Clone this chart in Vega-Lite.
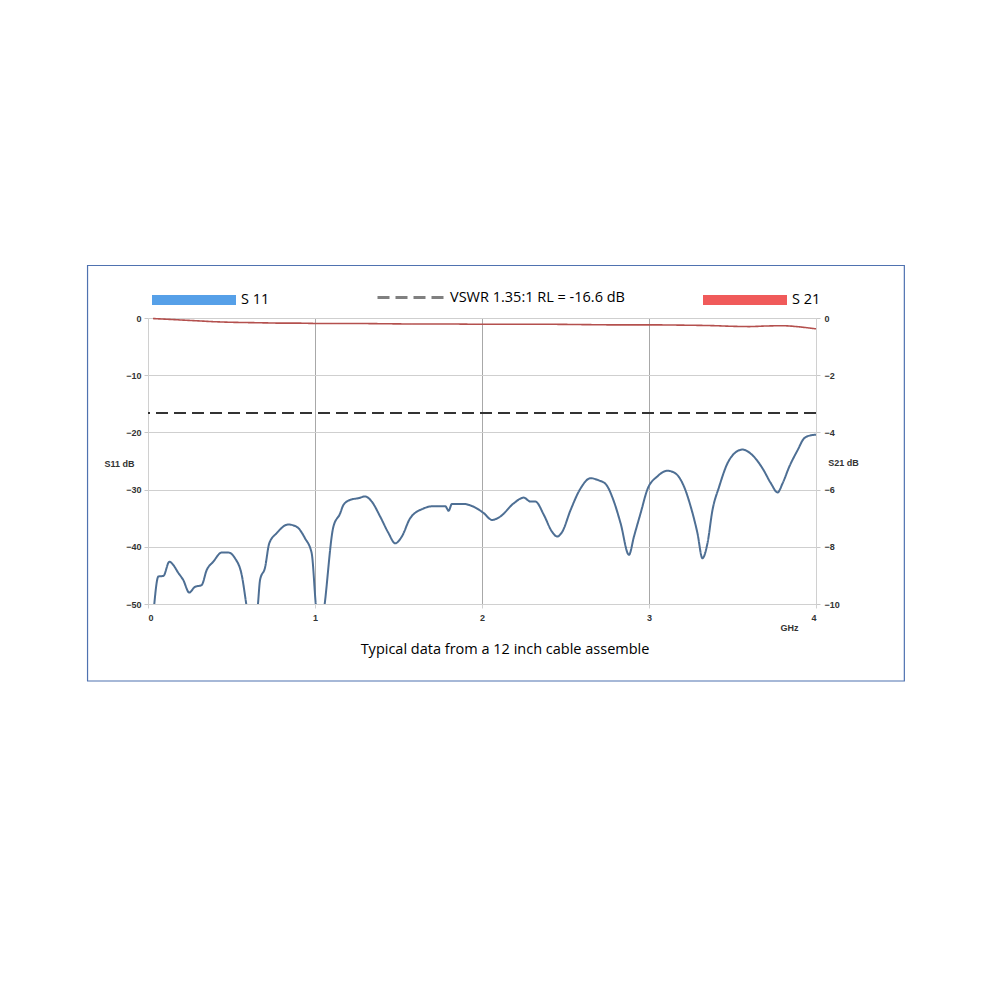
{
  "$schema": "https://vega.github.io/schema/vega-lite/v6.json",
  "width": 668,
  "height": 286,
  "autosize": "none",
  "padding": {"left": 148, "top": 318, "right": 184, "bottom": 396},
  "background": "white",
  "config": {"view": {"stroke": null}, "font": "Liberation Sans"},
  "title": {
    "text": "Typical data from a 12 inch cable assemble",
    "orient": "bottom",
    "frame": "group",
    "anchor": "middle",
    "dx": 23,
    "dy": -73,
    "offset": 34,
    "font": "Open Sans",
    "fontSize": 14.5,
    "fontWeight": "normal",
    "color": "#000000"
  },
  "datasets": {
    "s11": [
      {"ghz": 0.036, "db": -50.5},
      {"ghz": 0.062, "db": -45.2},
      {"ghz": 0.092, "db": -45.1},
      {"ghz": 0.128, "db": -42.6},
      {"ghz": 0.152, "db": -43.2},
      {"ghz": 0.18, "db": -44.5},
      {"ghz": 0.211, "db": -45.8},
      {"ghz": 0.247, "db": -48.0},
      {"ghz": 0.281, "db": -47.0},
      {"ghz": 0.321, "db": -46.7},
      {"ghz": 0.351, "db": -44.1},
      {"ghz": 0.391, "db": -42.6},
      {"ghz": 0.441, "db": -41.0},
      {"ghz": 0.481, "db": -41.0},
      {"ghz": 0.521, "db": -42.0},
      {"ghz": 0.561, "db": -44.9},
      {"ghz": 0.591, "db": -50.5},
      {"ghz": 0.62, "db": -56},
      {"ghz": 0.657, "db": -50.5},
      {"ghz": 0.671, "db": -45.8},
      {"ghz": 0.701, "db": -43.6},
      {"ghz": 0.726, "db": -39.4},
      {"ghz": 0.771, "db": -37.6},
      {"ghz": 0.84, "db": -36.1},
      {"ghz": 0.89, "db": -36.5},
      {"ghz": 0.94, "db": -38.5},
      {"ghz": 0.98, "db": -41.1},
      {"ghz": 1.006, "db": -50.5},
      {"ghz": 1.03, "db": -56},
      {"ghz": 1.056, "db": -50.5},
      {"ghz": 1.11, "db": -36.5},
      {"ghz": 1.15, "db": -34.2},
      {"ghz": 1.17, "db": -32.7},
      {"ghz": 1.21, "db": -31.8},
      {"ghz": 1.26, "db": -31.5},
      {"ghz": 1.3, "db": -31.2},
      {"ghz": 1.34, "db": -32.1},
      {"ghz": 1.39, "db": -34.7},
      {"ghz": 1.44, "db": -37.6},
      {"ghz": 1.48, "db": -39.4},
      {"ghz": 1.52, "db": -38.2},
      {"ghz": 1.57, "db": -35.0},
      {"ghz": 1.65, "db": -33.3},
      {"ghz": 1.71, "db": -32.9},
      {"ghz": 1.78, "db": -32.9},
      {"ghz": 1.8, "db": -33.7},
      {"ghz": 1.82, "db": -32.5},
      {"ghz": 1.89, "db": -32.5},
      {"ghz": 1.95, "db": -33.0},
      {"ghz": 2.01, "db": -34.1},
      {"ghz": 2.06, "db": -35.3},
      {"ghz": 2.11, "db": -34.7},
      {"ghz": 2.19, "db": -32.4},
      {"ghz": 2.25, "db": -31.4},
      {"ghz": 2.29, "db": -32.1},
      {"ghz": 2.32, "db": -32.1},
      {"ghz": 2.37, "db": -34.4},
      {"ghz": 2.42, "db": -37.4},
      {"ghz": 2.45, "db": -38.2},
      {"ghz": 2.48, "db": -37.4},
      {"ghz": 2.53, "db": -33.6},
      {"ghz": 2.59, "db": -29.8},
      {"ghz": 2.65, "db": -28.0},
      {"ghz": 2.7, "db": -28.4},
      {"ghz": 2.74, "db": -29.0},
      {"ghz": 2.79, "db": -32.1},
      {"ghz": 2.83, "db": -35.9},
      {"ghz": 2.88, "db": -41.4},
      {"ghz": 2.91, "db": -38.2},
      {"ghz": 2.95, "db": -34.1},
      {"ghz": 2.99, "db": -30.0},
      {"ghz": 3.05, "db": -27.7},
      {"ghz": 3.11, "db": -26.7},
      {"ghz": 3.16, "db": -27.2},
      {"ghz": 3.21, "db": -29.5},
      {"ghz": 3.25, "db": -33.0},
      {"ghz": 3.29, "db": -37.6},
      {"ghz": 3.32, "db": -42.0},
      {"ghz": 3.35, "db": -39.4},
      {"ghz": 3.38, "db": -33.6},
      {"ghz": 3.42, "db": -29.5},
      {"ghz": 3.47, "db": -25.4},
      {"ghz": 3.51, "db": -23.7},
      {"ghz": 3.56, "db": -23.0},
      {"ghz": 3.62, "db": -24.0},
      {"ghz": 3.68, "db": -26.3},
      {"ghz": 3.73, "db": -28.9},
      {"ghz": 3.77, "db": -30.5},
      {"ghz": 3.8, "db": -28.9},
      {"ghz": 3.84, "db": -26.0},
      {"ghz": 3.89, "db": -23.1},
      {"ghz": 3.93, "db": -21.0},
      {"ghz": 3.97, "db": -20.5},
      {"ghz": 4.0, "db": -20.4}
    ],
    "s21": [
      {"ghz": 0.03, "db": -0.02},
      {"ghz": 0.1, "db": -0.04},
      {"ghz": 0.2, "db": -0.07},
      {"ghz": 0.3, "db": -0.1},
      {"ghz": 0.4, "db": -0.13},
      {"ghz": 0.5, "db": -0.15},
      {"ghz": 0.6, "db": -0.16},
      {"ghz": 0.7, "db": -0.17},
      {"ghz": 0.8, "db": -0.18},
      {"ghz": 0.9, "db": -0.18},
      {"ghz": 1.0, "db": -0.19},
      {"ghz": 1.2, "db": -0.19},
      {"ghz": 1.4, "db": -0.2},
      {"ghz": 1.6, "db": -0.21},
      {"ghz": 1.8, "db": -0.21},
      {"ghz": 2.0, "db": -0.22},
      {"ghz": 2.2, "db": -0.22},
      {"ghz": 2.4, "db": -0.22},
      {"ghz": 2.6, "db": -0.23},
      {"ghz": 2.8, "db": -0.24},
      {"ghz": 3.0, "db": -0.24},
      {"ghz": 3.2, "db": -0.25},
      {"ghz": 3.4, "db": -0.27},
      {"ghz": 3.5, "db": -0.29},
      {"ghz": 3.6, "db": -0.3},
      {"ghz": 3.7, "db": -0.28},
      {"ghz": 3.8, "db": -0.27},
      {"ghz": 3.9, "db": -0.31},
      {"ghz": 4.0, "db": -0.38}
    ]
  },
  "layer": [
    {
      "layer": [
        {
          "data": {"name": "s11"},
          "mark": {"type": "line", "clip": true, "strokeWidth": 2, "interpolate": "monotone", "stroke": "#4e6f94"},
          "encoding": {
            "x": {
              "field": "ghz", "type": "quantitative",
              "scale": {"domain": [0, 4], "nice": false},
              "axis": {
                "values": [0, 1, 2, 3, 4],
                "format": "d",
                "title": "GHz",
                "titleX": 641, "titleY": 23, "titleAlign": "center", "titleBaseline": "middle",
                "titleFont": "Liberation Sans", "titleFontSize": 9, "titleFontWeight": "bold", "titleColor": "#333333",
                "labelFont": "Liberation Sans", "labelFontSize": 9, "labelFontWeight": "bold", "labelColor": "#333333",
                "labelPadding": 5, "tickSize": 4, "tickColor": "#d0d0d0",
                "domainColor": "#d0d0d0",
                "grid": true,
                "gridColor": {"condition": {"test": "datum.value === 0 || datum.value === 4", "value": "#d6d6d6"}, "value": "#a8a8a8"}
              }
            },
            "y": {
              "field": "db", "type": "quantitative",
              "scale": {"domain": [-50, 0], "nice": false},
              "axis": {
                "orient": "left",
                "values": [0, -10, -20, -30, -40, -50],
                "title": "S11 dB",
                "titleAngle": 0, "titleX": -29, "titleY": 145, "titleAlign": "center", "titleBaseline": "middle",
                "titleFont": "Liberation Sans", "titleFontSize": 9, "titleFontWeight": "bold", "titleColor": "#333333",
                "labelFont": "Liberation Sans", "labelFontSize": 9, "labelFontWeight": "bold", "labelColor": "#333333",
                "labelPadding": 3, "tickSize": 4, "tickColor": "#c8c8c8",
                "domainColor": "#d0d0d0",
                "grid": true, "gridColor": "#cfcfcf"
              }
            },
            "strokeDash": {
              "datum": "S 11", "type": "nominal",
              "scale": {"range": [[1, 0]]},
              "legend": {
                "orient": "none", "legendX": -1, "legendY": -65, "title": null, "padding": 0,
                "symbolType": "stroke", "symbolSize": 7056, "symbolStrokeWidth": 10, "symbolStrokeColor": "#56a0e8",
                "labelFont": "Open Sans", "labelFontSize": 14.5, "labelColor": "#000000", "labelOffset": 0
              }
            }
          }
        },
        {
          "data": {"values": [{}]},
          "mark": {"type": "rule", "strokeWidth": 2, "stroke": "#333333"},
          "encoding": {
            "y": {"datum": -16.6, "type": "quantitative"},
            "strokeDash": {
              "datum": "VSWR 1.35:1 RL = -16.6 dB", "type": "nominal",
              "scale": {"range": [[12, 6]]},
              "legend": {
                "orient": "none", "legendX": 228, "legendY": -55, "title": null, "padding": 0,
                "symbolType": "stroke", "symbolSize": 4356, "symbolStrokeWidth": 3, "symbolStrokeColor": "#808080",
                "labelFont": "Open Sans", "labelFontSize": 14.5, "labelColor": "#000000", "labelOffset": 5, "labelLimit": 400
              }
            }
          }
        },
        {
          "data": {"values": [{}]},
          "mark": {"type": "rect", "filled": false, "stroke": "#4f72b0", "strokeWidth": 1.2, "clip": false},
          "encoding": {
            "x": {"datum": -0.362, "type": "quantitative"},
            "x2": {"datum": 4.529},
            "y": {"datum": 9.18, "type": "quantitative"},
            "y2": {"datum": -63.46}
          }
        }
      ],
      "resolve": {"scale": {"strokeDash": "independent"}, "legend": {"strokeDash": "independent"}}
    },
    {
      "data": {"name": "s21"},
      "mark": {"type": "line", "strokeWidth": 1.6, "interpolate": "monotone", "stroke": "#b4504e"},
      "encoding": {
        "x": {"field": "ghz", "type": "quantitative"},
        "y": {
          "field": "db", "type": "quantitative",
          "scale": {"domain": [-10, 0], "nice": false},
          "axis": {
            "orient": "right",
            "values": [0, -2, -4, -6, -8, -10],
            "title": "S21 dB",
            "titleAngle": 0, "titleX": 27, "titleY": 144, "titleAlign": "center", "titleBaseline": "middle",
            "titleFont": "Liberation Sans", "titleFontSize": 9, "titleFontWeight": "bold", "titleColor": "#333333",
            "labelFont": "Liberation Sans", "labelFontSize": 9, "labelFontWeight": "bold", "labelColor": "#333333",
            "labelPadding": 4, "tickSize": 4, "tickColor": "#c8c8c8",
            "domainColor": "#d0d0d0",
            "grid": false
          }
        },
        "strokeDash": {
          "datum": "S 21", "type": "nominal",
          "scale": {"range": [[1, 0]]},
          "legend": {
            "orient": "none", "legendX": 550, "legendY": -65, "title": null, "padding": 0,
            "symbolType": "stroke", "symbolSize": 7056, "symbolStrokeWidth": 10, "symbolStrokeColor": "#f05a5a",
            "labelFont": "Open Sans", "labelFontSize": 14.5, "labelColor": "#000000", "labelOffset": 0
          }
        }
      }
    }
  ],
  "resolve": {"scale": {"y": "independent", "strokeDash": "independent"}, "legend": {"strokeDash": "independent"}}
}
